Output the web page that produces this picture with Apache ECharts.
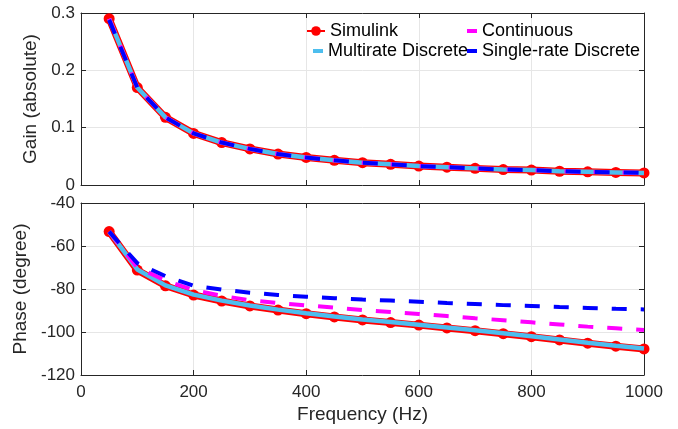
<!DOCTYPE html>
<html>
<head>
<meta charset="utf-8">
<script src="https://cdn.jsdelivr.net/npm/echarts@6/dist/echarts.min.js"></script>
<style>html,body{margin:0;padding:0;background:#fff}#c{width:678px;height:429px}</style>
</head>
<body>
<div id="c"></div>
<script>
// Frequency (Hz)
const freq = [50,100,150,200,250,300,350,400,450,500,550,600,650,700,750,800,850,900,950,1000];
// Gain (absolute)
const gainSimulink   = [0.290,0.170,0.118,0.090,0.074,0.063,0.054,0.048,0.043,0.039,0.036,0.033,0.031,0.029,0.027,0.026,0.024,0.023,0.022,0.021];
const gainMultirate  = [0.290,0.170,0.118,0.090,0.074,0.063,0.054,0.048,0.043,0.039,0.036,0.033,0.031,0.029,0.027,0.026,0.024,0.023,0.022,0.021];
const gainContinuous = [0.290,0.170,0.118,0.090,0.074,0.063,0.054,0.048,0.043,0.039,0.036,0.033,0.031,0.029,0.027,0.026,0.024,0.023,0.022,0.021];
const gainSingle     = [0.288,0.170,0.118,0.090,0.074,0.063,0.054,0.048,0.043,0.039,0.036,0.033,0.031,0.029,0.027,0.026,0.024,0.023,0.022,0.021];
// Phase (degree)
const phaseSimulink   = [-53.3,-71.2,-78.5,-82.8,-85.6,-87.9,-89.8,-91.5,-93.0,-94.4,-95.6,-96.8,-98.1,-99.4,-100.8,-102.2,-103.7,-105.2,-106.6,-107.9];
const phaseMultirate  = [-53.3,-70.9,-78.3,-82.6,-85.4,-87.7,-89.6,-91.3,-92.8,-94.2,-95.4,-96.6,-97.9,-99.2,-100.6,-102.0,-103.5,-105.0,-106.4,-107.7];
const phaseContinuous = [-53.3,-70.0,-76.0,-80.5,-83.2,-85.2,-86.5,-87.6,-88.7,-89.8,-90.7,-91.6,-92.6,-93.6,-94.5,-95.5,-96.5,-97.5,-98.3,-99.1];
const phaseSingle     = [-53.3,-68.0,-74.0,-78.5,-80.3,-81.7,-82.8,-83.6,-84.3,-84.9,-85.4,-85.9,-86.5,-87.0,-87.5,-87.9,-88.4,-88.8,-89.2,-89.5];
// Axis ticks
const xTicks = {min:0, max:1000, interval:200};
const gainTicks = {min:0, max:0.3, interval:0.1};
const phaseTicks = {min:-120, max:-40, interval:20};

const AX = '#262626';
const FONT = 'Liberation Sans, Arial, Helvetica, sans-serif';
const pair = (arr) => freq.map((f,i)=>[f,arr[i]]);

function mkX(gi, pos, labels, name){
  return {type:'value', gridIndex:gi, position:pos, min:xTicks.min, max:xTicks.max, interval:xTicks.interval,
    axisLine:{show:true, onZero:false, lineStyle:{color:AX, width:1}},
    axisTick:{show:true, inside:true, length:5, lineStyle:{color:AX}},
    axisLabel:{show:labels, color:AX, fontSize:17, fontFamily:FONT, margin:9, formatter:(v)=>String(v)},
    splitLine:{show:pos==='bottom', lineStyle:{color:'#e6e6e6', width:1}},
    name: name||'', nameLocation:'middle', nameGap:30, nameTextStyle:{color:AX, fontSize:19, fontFamily:FONT}};
}
function mkY(gi, pos, t, labels, name, gap){
  return {type:'value', gridIndex:gi, position:pos, min:t.min, max:t.max, interval:t.interval,
    axisLine:{show:true, onZero:false, lineStyle:{color:AX, width:1}},
    axisTick:{show:true, inside:true, length:5, lineStyle:{color:AX}},
    axisLabel:{show:labels, color:AX, fontSize:17, fontFamily:FONT, margin:6, formatter:(v)=>String(v)},
    splitLine:{show:pos==='left', lineStyle:{color:'#e6e6e6', width:1}},
    name: name||'', nameLocation:'middle', nameGap:gap||0, nameRotate:90, nameTextStyle:{color:AX, fontSize:19, fontFamily:FONT}};
}
function mkSeries(name, xi, yi, data){
  const base = {name, type:'line', xAxisIndex:xi, yAxisIndex:yi, data:pair(data), animation:false, z:2};
  if(name==='Simulink') return Object.assign(base,{symbol:'circle', symbolSize:11, itemStyle:{color:'#ff0000'}, lineStyle:{color:'#ff0000', width:7}, z:2});
  if(name==='Multirate Discrete') return Object.assign(base,{symbol:'none', itemStyle:{color:'#4dbeee'}, lineStyle:{color:'#4dbeee', width:4.5}, z:3});
  if(name==='Continuous') return Object.assign(base,{symbol:'none', itemStyle:{color:'#ff00ff'}, lineStyle:{color:'#ff00ff', width:4, type:[15,14]}, z:4});
  return Object.assign(base,{symbol:'none', itemStyle:{color:'#0000ff'}, lineStyle:{color:'#0000ff', width:4, type:[15,14]}, z:5});
}
function mkLegend(name, left, top, w, h, icon){
  const l = {data:[name], orient:'horizontal', left, top, itemWidth:w, itemHeight:h, itemGap:0, itemTextGap:2,
    textStyle:{color:'#000', fontSize:18, fontFamily:FONT}, padding:0, selectedMode:false};
  if(icon) l.icon = icon;
  return l;
}

const option = {
  backgroundColor:'#fff',
  animation:false,
  grid:[
    {left:81, top:13, width:563, height:172, show:false},
    {left:81, top:203, width:563, height:172, show:false}
  ],
  xAxis:[ mkX(0,'bottom',false), mkX(1,'bottom',true,'Frequency (Hz)'), mkX(0,'top',false), mkX(1,'top',false) ],
  yAxis:[ mkY(0,'left',gainTicks,true,'Gain (absolute)',35), mkY(1,'left',phaseTicks,true,'Phase (degree)',45),
          mkY(0,'right',gainTicks,false), mkY(1,'right',phaseTicks,false) ],
  legend:[
    mkLegend('Simulink', 306, 22, 18, 12, null),
    mkLegend('Multirate Discrete', 313, 42, 10, 4, 'rect'),
    mkLegend('Continuous', 467, 22, 10, 4, 'rect'),
    mkLegend('Single-rate Discrete', 467, 42, 10, 4, 'rect')
  ],
  series:[
    mkSeries('Simulink',0,0,gainSimulink),
    mkSeries('Multirate Discrete',0,0,gainMultirate),
    mkSeries('Continuous',0,0,gainContinuous),
    mkSeries('Single-rate Discrete',0,0,gainSingle),
    mkSeries('Simulink',1,1,phaseSimulink),
    mkSeries('Multirate Discrete',1,1,phaseMultirate),
    mkSeries('Continuous',1,1,phaseContinuous),
    mkSeries('Single-rate Discrete',1,1,phaseSingle)
  ]
};
const chart = echarts.init(document.getElementById('c'), null, {renderer:'canvas'});
chart.setOption(option);
</script>
</body>
</html>
